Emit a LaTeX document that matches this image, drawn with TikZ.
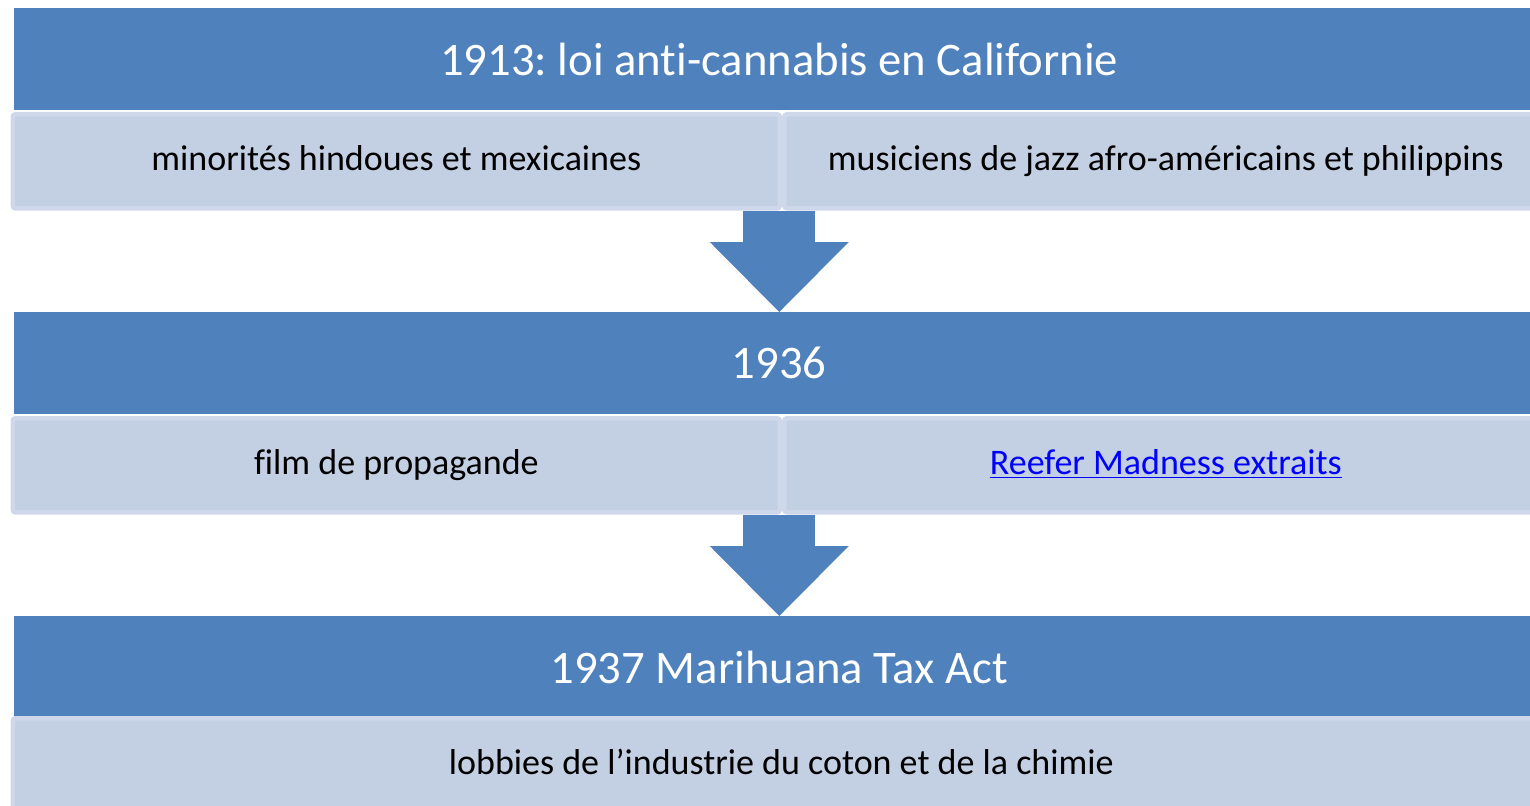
\documentclass[tikz,border=0pt]{standalone}
\usepackage{fontspec}
\setmainfont{Carlito}[Ligatures=NoCommon]
\usetikzlibrary{arrows.meta,positioning}

\definecolor{headblue}{HTML}{4F81BD}
\definecolor{subfill}{HTML}{C3CFE3}
\definecolor{subrim}{HTML}{CFD8EA}
\definecolor{linkblue}{HTML}{0000FF}

\tikzset{
  header/.style={fill=headblue, text=white, minimum width=1147.5pt, minimum height=76.5pt,
    inner sep=0pt, anchor=north west, font=\fontsize{35}{40}\selectfont},
  subbox/.style={fill=subfill, draw=subrim, line width=3.5pt, rounded corners=2pt,
    minimum height=70.5pt, inner sep=0pt, text height=19.5pt, text depth=5.5pt,
    anchor=north west, font=\fontsize{27}{31}\selectfont},
  flow/.style={draw=headblue, line width=54pt,
    -{Triangle[width=104.25pt, length=52.5pt, line width=0pt, color=headblue]}},
}

\frenchspacing
\begin{document}
\begin{tikzpicture}[x=0.75pt, y=-0.75pt]
  \clip (0,0) rectangle (1530,806);

  % tier 1913
  \node[header] (h1) at (14,8) {1913: loi anti-cannabis en Californie};
  \node[subbox, minimum width=575.25pt] (l1) at (10.5,112) {minorités hindoues et mexicaines};
  \node[subbox, minimum width=572.25pt] (r1) at (782,112) {musiciens de jazz afro-américains et philippins};

  % tier 1936
  \node[header] (h2) at (14,312) {1936};
  \node[subbox, minimum width=575.25pt] (l2) at (10.5,416) {film de propagande};
  \node[subbox, minimum width=572.25pt] (r2) at (782,416)
    {\textcolor{linkblue}{\underline{Reefer Madness extraits}}};

  % tier 1937
  \node[header] (h3) at (14,616) {1937 Marihuana Tax Act};
  \node[subbox, minimum width=1152.75pt] (l3) at (10.5,716) {lobbies de l’industrie du coton et de la chimie};

  \draw[flow] (h1.south |- l1.south) -- (h2.north);
  \draw[flow] (h2.south |- l2.south) -- (h3.north);
\end{tikzpicture}
\end{document}
